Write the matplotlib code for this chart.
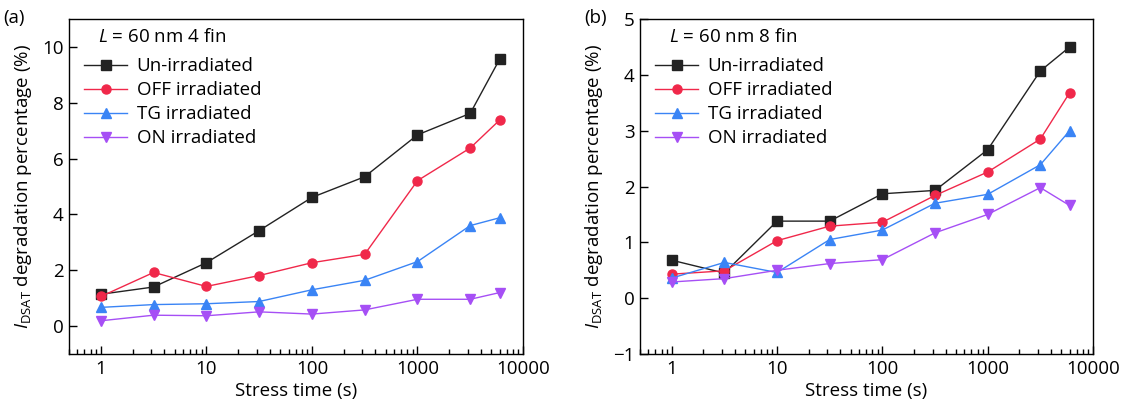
import matplotlib
matplotlib.use('Agg')
import matplotlib.pyplot as plt

plt.rcParams['font.family'] = ['Open Sans', 'DejaVu Sans']
plt.rcParams['mathtext.fontset'] = 'custom'
plt.rcParams['mathtext.rm'] = 'Open Sans'
plt.rcParams['mathtext.it'] = 'Open Sans:italic'
plt.rcParams['font.size'] = 13.5

# stress time (s)
stress_time = [1, 3.16, 10, 31.6, 100, 316, 1000, 3160, 6000]

# panel (a): L = 60 nm, 4 fin
a_un = [1.14, 1.40, 2.27, 3.42, 4.61, 5.35, 6.85, 7.62, 9.56]
a_off = [1.06, 1.92, 1.42, 1.81, 2.27, 2.57, 5.21, 6.38, 7.38]
a_tg = [0.67, 0.77, 0.80, 0.88, 1.30, 1.64, 2.31, 3.60, 3.88]
a_on = [0.19, 0.39, 0.37, 0.51, 0.43, 0.58, 0.96, 0.96, 1.20]

# panel (b): L = 60 nm, 8 fin
b_un = [0.68, 0.45, 1.38, 1.38, 1.87, 1.93, 2.66, 4.07, 4.50]
b_off = [0.43, 0.49, 1.03, 1.29, 1.36, 1.84, 2.26, 2.85, 3.68]
b_tg = [0.36, 0.64, 0.46, 1.05, 1.22, 1.70, 1.86, 2.39, 3.00]
b_on = [0.29, 0.35, 0.50, 0.62, 0.69, 1.17, 1.50, 1.98, 1.66]

labels = ['Un-irradiated', 'OFF irradiated', 'TG irradiated', 'ON irradiated']
colors = ['#222222', '#f0284a', '#3a84f5', '#a64ff5']
markers = ['s', 'o', '^', 'v']

fig = plt.figure(figsize=(11.28, 4.11), dpi=100)
ax1 = fig.add_axes([0.0612, 0.1387, 0.4025, 0.815])
ax2 = fig.add_axes([0.5674, 0.1387, 0.4016, 0.815])


def draw(ax, series, title, ylim, yticks):
    for y, lab, c, m in zip(series, labels, colors, markers):
        ax.plot(stress_time, y, color=c, marker=m, markersize=6.5, lw=1.0,
                label=lab)
    ax.set_xscale('log')
    ax.set_xlim(0.5, 10000)
    ax.set_xticks([1, 10, 100, 1000, 10000])
    ax.set_xticklabels(['1', '10', '100', '1000', '10000'])
    ax.set_ylim(*ylim)
    ax.set_yticks(yticks)
    ax.set_yticklabels([str(t).replace('-', '\u2212') for t in yticks])
    ax.tick_params(which='both', direction='in', top=False, right=False)
    ax.tick_params(which='major', length=6, width=1, pad=4)
    ax.tick_params(which='minor', length=3.5, width=1)
    for s in ax.spines.values():
        s.set_linewidth(1.0)
    ax.set_xlabel('Stress time (s)', labelpad=3)
    ax.set_ylabel(r'$I_{\mathrm{DSAT}}$ degradation percentage (%)',
                  labelpad=6)
    ax.text(0.064, 0.947, title, transform=ax.transAxes, va='center',
            ha='left')
    ax.legend(loc='upper left', bbox_to_anchor=(0.0, 0.93), frameon=False,
              handlelength=2.3, handletextpad=0.5, labelspacing=0.32,
              borderaxespad=0.6, borderpad=0.2)


draw(ax1, [a_un, a_off, a_tg, a_on], r'$L$ = 60 nm 4 fin', (-1, 11),
     [0, 2, 4, 6, 8, 10])
draw(ax2, [b_un, b_off, b_tg, b_on], r'$L$ = 60 nm 8 fin', (-1, 5),
     [-1, 0, 1, 2, 3, 4, 5])

fig.text(0.003, 0.955, '(a)', ha='left', va='center')
fig.text(0.518, 0.955, '(b)', ha='left', va='center')

fig.savefig('out.png', dpi=100)
